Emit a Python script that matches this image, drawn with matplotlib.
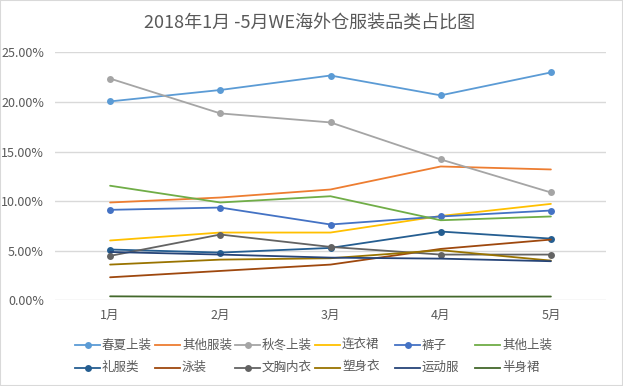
import matplotlib
matplotlib.use("Agg")
import matplotlib.pyplot as plt
from matplotlib.lines import Line2D
from matplotlib.patches import Rectangle
from matplotlib.ticker import PercentFormatter

plt.rcParams['font.family'] = ['Noto Sans CJK SC', 'DejaVu Sans']

months = ["1月", "2月", "3月", "4月", "5月"]
series_names = ["春夏上装", "其他服装", "秋冬上装", "连衣裙", "裤子", "其他上装",
                "礼服类", "泳装", "文胸内衣", "塑身衣", "运动服", "半身裙"]

chunxia = [20.05, 21.2, 22.66, 20.66, 22.97]
qita_fuzhuang = [9.86, 10.36, 11.17, 13.49, 13.19]
qiudong = [22.35, 18.84, 17.93, 14.2, 10.87]
lianyiqun = [6.03, 6.83, 6.83, 8.5, 9.72]
kuzi = [9.12, 9.35, 7.64, 8.45, 9.05]
qita_shangzhuang = [11.55, 9.86, 10.49, 8.07, 8.45]
lifu = [5.12, 4.81, 5.28, 6.93, 6.22]
yongzhuang = [2.32, 2.96, 3.6, 5.18, 6.12]
wenxiong = [4.48, 6.63, 5.38, 4.61, 4.61]
sushen = [3.6, 4.1, 4.24, 5.05, 4.0]
yundong = [4.87, 4.61, 4.3, 4.2, 3.94]
banshenqun = [0.4, 0.35, 0.35, 0.37, 0.38]

values = [chunxia, qita_fuzhuang, qiudong, lianyiqun, kuzi, qita_shangzhuang,
          lifu, yongzhuang, wenxiong, sushen, yundong, banshenqun]
colors = ["#5B9BD5", "#ED7D31", "#A5A5A5", "#FFC000", "#4472C4", "#70AD47",
          "#255E91", "#9E480E", "#636363", "#997300", "#264478", "#43682B"]
has_marker = [True, False, True, False, True, False,
              True, False, True, False, False, False]

W, H = 623, 386
fig = plt.figure(figsize=(W / 100, H / 100), dpi=100)
ax = fig.add_axes([55 / W, 1 - 300.3 / H, (606 - 55) / W, (300.3 - 52.3) / H])

x = list(range(len(months)))
for name, vals, c, m in zip(series_names, values, colors, has_marker):
    ax.plot(x, vals, color=c, lw=1.3, marker='o' if m else None,
            markersize=5, markeredgewidth=0, label=name, solid_capstyle='round')

ax.set_xlim(-0.5, len(months) - 0.5)
ax.set_ylim(0, 25)
ax.set_yticks([0, 5, 10, 15, 20, 25])
ax.yaxis.set_major_formatter(PercentFormatter(decimals=2))
ax.set_xticks(x)
ax.set_xticklabels(months)
ax.grid(axis='y', color='#D9D9D9', lw=1)
ax.set_axisbelow(True)
for s in ax.spines.values():
    s.set_visible(False)
ax.tick_params(axis='both', length=0, colors='#595959', labelsize=9)
ax.tick_params(axis='y', pad=8)
ax.tick_params(axis='x', pad=6)

fig.text(310 / W, 1 - 23 / H, "2018年1月 -5月WE海外仓服装品类占比图",
         ha='center', va='center', fontsize=13, color='#595959')

# legend (equal-width columns like the original)
for i, (name, c, m) in enumerate(zip(series_names, colors, has_marker)):
    row, col = divmod(i, 6)
    x0 = 75 + 80 * col
    y0 = 345 + 22.5 * row
    fy = 1 - y0 / H
    fig.add_artist(Line2D([x0 / W, (x0 + 25) / W], [fy, fy], color=c, lw=1.3,
                          transform=fig.transFigure))
    if m:
        fig.add_artist(Line2D([(x0 + 12.5) / W], [fy], color=c, marker='o',
                              markersize=5, markeredgewidth=0,
                              transform=fig.transFigure))
    fig.text((x0 + 27) / W, fy, name, ha='left', va='center', fontsize=9,
             color='#595959')

fig.add_artist(Rectangle((0, 0), 1, 1, transform=fig.transFigure, fill=False,
                         edgecolor='#D9D9D9', lw=1.5))

fig.savefig("out.png", dpi=100, facecolor='white')
